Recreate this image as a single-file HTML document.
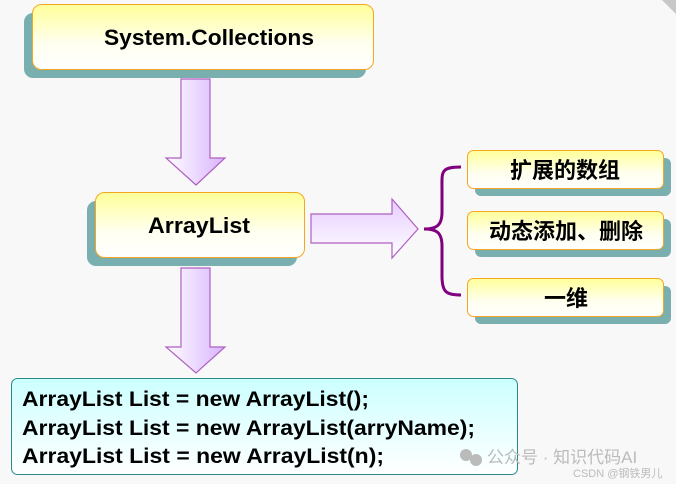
<!DOCTYPE html>
<html><head><meta charset="utf-8"><style>html,body{margin:0;padding:0;background:#f8f8f8;}svg{display:block}</style></head>
<body>
<svg width="676" height="484" viewBox="0 0 676 484" xmlns="http://www.w3.org/2000/svg" font-family="'Liberation Sans','Noto Sans CJK SC',sans-serif" font-weight="bold">
<defs>
<linearGradient id="y" x1="0" y1="0" x2="0" y2="1"><stop offset="0" stop-color="#ffff99"/><stop offset="0.6" stop-color="#fffff0"/><stop offset="1" stop-color="#ffffff"/></linearGradient>
<linearGradient id="c" x1="0" y1="0" x2="0" y2="1"><stop offset="0" stop-color="#ccffff"/><stop offset="1" stop-color="#ffffff"/></linearGradient>
<linearGradient id="pv" x1="0" y1="0" x2="1" y2="0"><stop offset="0" stop-color="#ffffff"/><stop offset="1" stop-color="#d9b3ff"/></linearGradient>
<linearGradient id="ph" x1="0" y1="0" x2="0" y2="1"><stop offset="0" stop-color="#e6ccff"/><stop offset="1" stop-color="#ffffff"/></linearGradient>
</defs>
<rect width="676" height="484" fill="#f8f8f8"/>
<polygon points="662,0 676,0 676,14" fill="#c8c8c8"/>
<rect x="24" y="13" width="342" height="65" rx="9" fill="#7aafaf"/>
<rect x="32.5" y="4.5" width="341" height="65" rx="9" fill="url(#y)" stroke="#f5a623"/>
<text x="104" y="45" font-size="22" textLength="210" lengthAdjust="spacingAndGlyphs">System.Collections</text>
<polygon points="181,79 210,79 210,158 225,158 196,185 166,158 181,158" fill="url(#pv)" stroke="#b060c0" stroke-width="1.2"/>
<rect x="87" y="201" width="210" height="65" rx="9" fill="#7aafaf"/>
<rect x="95.5" y="192.5" width="209" height="65" rx="9" fill="url(#y)" stroke="#f5a623"/>
<text x="148" y="233" font-size="22" textLength="102" lengthAdjust="spacingAndGlyphs">ArrayList</text>
<polygon points="311,214 392,214 392,199 418,229 392,258 392,243 311,243" fill="url(#ph)" stroke="#b060c0" stroke-width="1.2"/>
<path d="M461,167 C440,167 442,172 442,190 L442,212 C442,226 436,229 424,229 C436,229 442,232 442,246 L442,276 C442,292 446,295 461,295" fill="none" stroke="#800080" stroke-width="3"/>
<rect x="475" y="158" width="196" height="38" rx="6" fill="#7aafaf"/>
<rect x="467.5" y="150.5" width="196" height="38" rx="6" fill="url(#y)" stroke="#f5a623"/>
<text x="565" y="178" font-size="22" text-anchor="middle">扩展的数组</text>
<rect x="475" y="219" width="196" height="38" rx="6" fill="#7aafaf"/>
<rect x="467.5" y="211.5" width="196" height="38" rx="6" fill="url(#y)" stroke="#f5a623"/>
<text x="566" y="239" font-size="22" text-anchor="middle">动态添加、删除</text>
<rect x="475" y="286" width="196" height="38" rx="6" fill="#7aafaf"/>
<rect x="467.5" y="278.5" width="196" height="38" rx="6" fill="url(#y)" stroke="#f5a623"/>
<text x="566" y="306" font-size="22" text-anchor="middle">一维</text>
<polygon points="181,268 210,268 210,347 225,347 196,373 166,347 181,347" fill="url(#pv)" stroke="#b060c0" stroke-width="1.2"/>
<rect x="11.5" y="378.5" width="506" height="96" rx="6" fill="url(#c)" stroke="#2a8a8a"/>
<text x="22" y="406" font-size="21" textLength="347" lengthAdjust="spacingAndGlyphs">ArrayList List = new ArrayList();</text>
<text x="22" y="435" font-size="21" textLength="453" lengthAdjust="spacingAndGlyphs">ArrayList List = new ArrayList(arryName);</text>
<text x="22" y="463" font-size="21" textLength="362" lengthAdjust="spacingAndGlyphs">ArrayList List = new ArrayList(n);</text>
<g fill="#bbbbbb" font-weight="normal">
<circle cx="466" cy="455" r="6"/><circle cx="476" cy="460" r="6"/>
<text x="487" y="463" font-size="17">公众号 · 知识代码AI</text>
<text x="573" y="477" font-size="11">CSDN @钢铁男儿</text>
</g>
</svg>
</body></html>
